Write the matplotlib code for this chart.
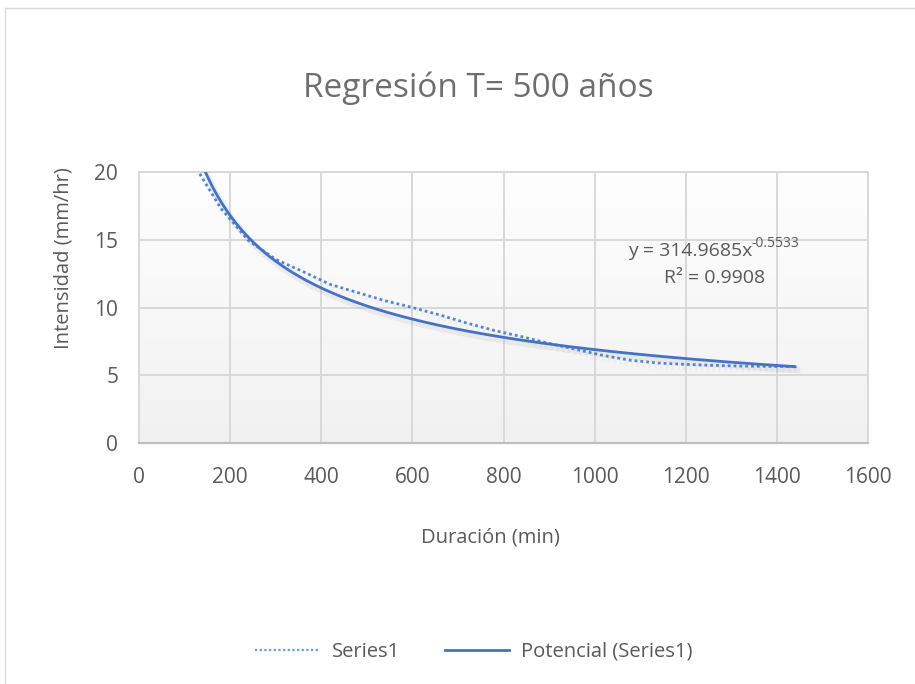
import numpy as np
import matplotlib
matplotlib.use("Agg")
import matplotlib.pyplot as plt
import matplotlib.patheffects as pe
from matplotlib.patches import Rectangle

plt.rcParams['font.family'] = ['Open Sans', 'DejaVu Sans']

# Intensity-duration data for a 500-year return period
duracion = [120, 180, 240, 300, 360, 420, 480, 540, 600, 660, 720, 780,
            840, 900, 960, 1020, 1080, 1140, 1200, 1260, 1320, 1380, 1440]
intensidad = [20.6, 17.3, 14.95, 13.55, 12.65, 11.7, 11.1, 10.5, 10.0, 9.45,
              8.85, 8.3, 7.85, 7.35, 6.9, 6.45, 6.1, 5.9, 5.8, 5.73, 5.68,
              5.65, 5.63]

# Power-law trend line coefficients: y = a * x^b
coef_a = 314.9685
coef_b = -0.5533
r2 = 0.9908

title = "Regresión T= 500 años"
xlabel = "Duración (min)"
ylabel = "Intensidad (mm/hr)"
xticks = [0, 200, 400, 600, 800, 1000, 1200, 1400, 1600]
yticks = [0, 5, 10, 15, 20]

W, H = 915, 684
fig = plt.figure(figsize=(W / 100, H / 100), dpi=100)
fig.patch.set_facecolor('white')

# outer chart border
fig.patches.append(Rectangle((5 / W, -0.01), 1.05, 1 - 8 / H + 0.01,
                             transform=fig.transFigure, fill=False,
                             edgecolor='#D9D9D9', linewidth=1.0))

ax = fig.add_axes([139 / W, 1 - 443 / H, (868 - 139) / W, (443 - 172) / H])

# plot-area gradient fill
grad = np.linspace(0, 1, 256).reshape(-1, 1)
ax.imshow(grad, extent=[0, 1, 0, 1], transform=ax.transAxes, aspect='auto',
          cmap=matplotlib.colors.LinearSegmentedColormap.from_list(
              'bg', ['#FEFEFE', '#F1F1F1']),
          origin='upper', zorder=0)

ax.set_xlim(0, 1600)
ax.set_ylim(0, 20)
ax.set_xticks(xticks)
ax.set_yticks(yticks)
ax.grid(True, color='#D9D9D9', linewidth=1.4, zorder=1)
ax.set_axisbelow(True)
ax.tick_params(length=0, labelsize=15, colors='#595959')
ax.tick_params(axis='x', pad=17)
ax.tick_params(axis='y', pad=15)
for lab in ax.get_xticklabels() + ax.get_yticklabels():
    lab.set_color('#595959')
for side in ['top', 'right', 'left']:
    ax.spines[side].set_color('#D9D9D9')
    ax.spines[side].set_linewidth(1.4)
ax.spines['bottom'].set_color('#BFBFBF')
ax.spines['bottom'].set_linewidth(1.6)

shadow_s = [pe.SimpleLineShadow(offset=(1.5, -2.5), shadow_color='#777777',
                                alpha=0.10, linewidth=4.5), pe.Normal()]
shadow_d = [pe.SimpleLineShadow(offset=(1.5, -2.5), shadow_color='#777777',
                                alpha=0.05, linewidth=4.0), pe.Normal()]

ax.plot(duracion, intensidad, color='#5585CC', linewidth=2.0,
        linestyle=(0, (1, 1.1)), label='Series1', zorder=3,
        path_effects=shadow_d, dash_capstyle='butt')

xt = np.linspace(min(duracion), max(duracion), 400)
yt = coef_a * xt ** coef_b
ax.plot(xt, yt, color='#4472C4', linewidth=2.0, label='Potencial (Series1)',
        zorder=4, path_effects=shadow_s)

# trend-line equation and R^2 label
px = lambda p: (p - 139) / (868 - 139) * 1600
py = lambda p: (443 - p) / (443 - 172) * 20
ax.text(px(752), py(251), "y = 314.9685x", ha='right', va='center',
        fontsize=14, color='#595959', zorder=5)
ax.text(px(752), py(244), "-0.5533", ha='left', va='center',
        fontsize=10, color='#595959', zorder=5)
ax.text(px(715), py(278), "R² = 0.9908", ha='center', va='center',
        fontsize=14, color='#595959', zorder=5)

fig.text(478 / W, 1 - 88 / H, title, ha='center', va='center',
         fontsize=24, color='#6E6E6E')
fig.text(490 / W, 1 - 538 / H, xlabel, ha='center', va='center',
         fontsize=14.5, color='#595959')
fig.text(63 / W, 1 - 258 / H, ylabel, ha='center', va='center',
         rotation=90, fontsize=14.5, color='#595959')

h1, = ax.plot([], [], color='#6E9AD6', linewidth=1.6, linestyle=(0, (1, 1.1)))
h2, = ax.plot([], [], color='#4472C4', linewidth=2.0)
fig.legend([h1, h2], ['Series1', 'Potencial (Series1)'], loc='center',
           bbox_to_anchor=(474 / W, 1 - 652 / H), ncol=2, frameon=False,
           fontsize=14.5, labelcolor='#595959', handlelength=3.2,
           columnspacing=2.2, handletextpad=0.6)

fig.savefig('out.png', dpi=100, facecolor='white')
